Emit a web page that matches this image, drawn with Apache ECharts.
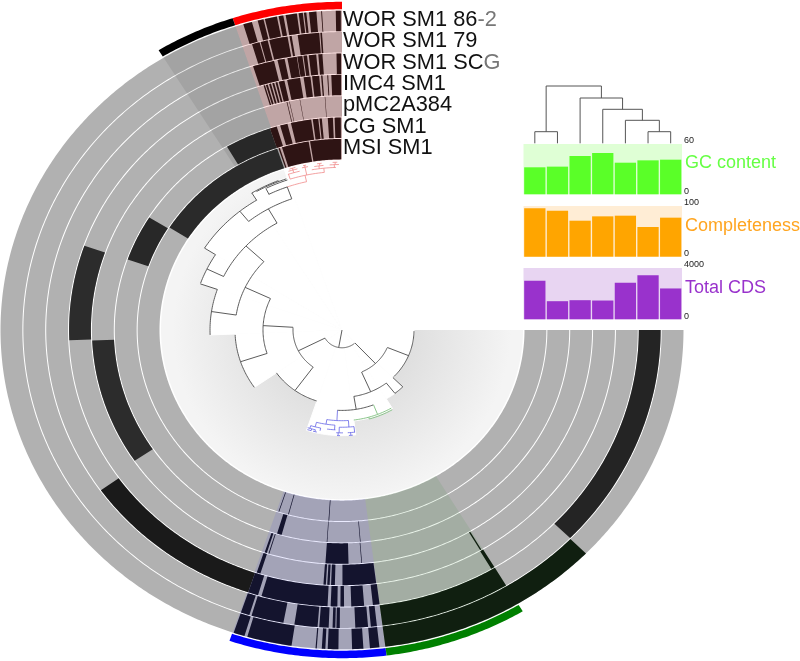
<!DOCTYPE html>
<html><head><meta charset="utf-8">
<style>html,body{margin:0;padding:0;background:#fff}#c{width:800px;height:661px}</style>
<script src="https://cdn.jsdelivr.net/npm/echarts@6/dist/echarts.min.js"></script>
</head><body><div id="c"></div>
<script>
// ---------- data ----------
const layerNames = ['WOR SM1 86-2','WOR SM1 79','WOR SM1 SCG','IMC4 SM1','pMC2A384','CG SM1','MSI SM1'];
// presence runs per layer, [start angle, end angle], outer layer first
const runsWor86 = [[187.3,225.6],
  [161.5,163.4],[163.9,171.5],[175.55,175.75],[176.6,177.2],[177.6,179.4],[181.7,183.6],[184.7,186.3],
  [15.3,16.8],[13.3,14.3],[11,13.05],[9.9,10.7],[7.6,9.5],[6.6,7.3],[6,6.4],[4.3,5.55],[3.35,3.5],[0.2,1.05]];
const runsWor79 = [[225.7,269.99],[187.3,211],
  [161.5,163.1],[163.5,169.4],[171.4,175.6],[175.9,177.6],[178.3,178.8],[179,179.6],[182.4,184.7],[185.2,186.3],
  [15,16.4],[13.5,14.8],[9.85,13.2],[9.1,9.5],[4.1,8],[3.6,3.9]];
const runsWorScg = [[125.4,161.5],[210.3,211],
  [161.5,163.5],[164.2,177.2],[177.8,179.1],[179.7,180.4],[181.8,184.3],[186,187.3],
  [13.3,17.5],[11.2,12.6],[8.8,10.65],[7.7,8.7],[6.8,7.5],[5,6.45],[3.8,4.6],[0.2,1.07]];
const runsImc4 = [[70.7,92.3],[210.4,210.7],
  [161.8,162.6],[176.1,176.6],[176.9,177.4],[177.7,178.5],[180.1,187.2],
  [16.4,16.7],[15.8,16.2],[15.1,15.5],[14.4,14.8],[13.7,14.1],[12.2,13.4],[8.85,11.6],[6.65,8.1],[4.8,6.3],[4.1,4.4],[2.9,3.1],[0.2,2.25]];
const runsPmc = [[92.6,124],
  [162,162.5],[162.9,163.1],[176.2,181.5],[184.45,184.6],
  [12.65,12.8],[12.1,12.2],[9.65,9.75],[3.85,3.95]];
const runsCg = [[18.5,30.4],[58,70.6],
  [163.4,164.6],[176.15,176.3],[184.55,184.7],
  [16.7,18.5],[13.9,15.8],[7.8,13],[6,7.4],[5.1,5.7],[2.3,3.6],[0.3,1.86]];
const runsMsi = [[18.5,57.6],
  [161.9,162.1],[164.7,164.9],[176.2,176.4],
  [0.3,9],[9.4,17.1],[17.7,18.1]];
const layerRuns = [runsWor86,runsWor79,runsWorScg,runsImc4,runsPmc,runsCg,runsMsi];
const layerDark = ['#1e1e1e','#242424','#1a1a1a','#2c2c2c','#2c2c2c','#282828','#2a2a2a'];

// clades: [start angle, end angle, bar colour, shade colour, presence colour]
const clades = [
  [0,18.15,'#ff0000','rgba(255,120,120,0.2)','#2e1414'],
  [18.15,31.5,'#000000','rgba(0,0,0,0.08)',null],
  [161.3,187.3,'#0000ff','rgba(0,0,255,0.08)','#14142e'],
  [187.3,211,'#008000','rgba(0,128,0,0.08)','#101f10']
];
// tree outline: [start angle, end angle, outermost depth]
const treeOutline = [[0,18.6,181],[18.6,31.7,172],[31.7,57.5,163],[57.5,70.5,150],[70.5,92.3,132],
  [92.3,125,107],[125,161.7,80],[161.7,187,113],[187,211,98],[211,225,86],[225,270,72]];
// tree arcs: [depth, from angle, to angle]; tree stems: [angle, from depth, to depth]
const arcsBlack = [[19,118,221],[49,87,144],[49,204,247],[79,65,108.5],[80,125,161.5],[107,46.9,81.4],[107,92.8,125],
  [131.5,29.6,64.2],[132,70.8,92.3],[150,57.5,70.5],[149,19.7,38.8],[163,31.5,57.5],[162.5,19.6,26.8],[172,21.7,31.7],
  [169.5,18.8,26.5],[171,19,30],[72,189.5,218],[72,225.7,269],[86,176.9,201.3],[86,218,225]];
const stemsBlack = [[170,0,19],[117,19,49],[223,19,49],[86.6,49,79],[144,49,80],[108.5,79,107],[64.8,79,107],[81.4,107,132],
  [46.9,107,131.5],[70.8,132,150],[64.2,131.5,150],[57.5,150,163],[29.6,131.5,149],[38.8,149,163],[19.7,149,162.5],
  [31.6,163,172],[26.7,162.5,169.5],[247.6,49,72],[203.5,49,72],[189.5,72,86],[225,72,86],[218,72,86]];
const arcsRed = [[162.5,12.6,19.6],[169.5,6,17.8],[174,2,10],[175,14,18],[177,1,4],[177,6,9],[178,11,13],[178,14.5,17.5],
  [179.5,1.5,3],[179.5,6.5,8],[180,11.5,12.5],[180,15,17]];
const stemsRed = [[12.6,162.5,169.5],[17.8,169.5,175],[6,169.5,174],[2.5,174,177],[7.5,174,177],[12,169.5,178],[16,175,178],
  [2.2,177,179.5],[7.2,177,179.5],[12,178,180],[16,178,180]];
const arcsBlue = [[97,171,183.8],[102,165.5,176],[104,178.5,186.6],[107,163,168.5],[107,172,176.5],[110,161.8,166],
  [110,177,180.5],[110,183,186.8],[112,162,164],[112,165,167],[113,177.5,179],[113,183.5,185.5]];
const stemsBlue = [[177,86,97],[171,97,102],[183.8,97,104],[165.5,102,107],[176,102,107],[178.5,104,110],[186.6,104,110],
  [163,107,110],[168.5,107,110],[164,110,112],[166,110,112],[178,110,113],[184.5,110,113]];
const arcsGreen = [[97,187,210.5],[99,196,210.5]];
const stemsGreen = [[201.5,86,97],[196,97,99]];

const gcContent = [32.2,33,45.7,49.3,37.7,40.5,41.3];
const completeness = [95.4,90.8,71,79.6,80.9,58.6,77];
const totalCds = [3007,1412,1490,1464,2850,3425,2405];
// dendrogram merges: [left x, left height, right x, right height, merge height]
const dendroNodes = [[0.5,0,1.5,0,11.6],[5.5,0,6.5,0,11.6],[4.5,0,6,11.6,23],[3.5,0,5.25,23,34],[2.5,0,4.375,34,45.3],[1,11.6,3.44,45.3,57.3]];

// ---------- layout ----------
const CX=342, CY=330, SQ=0.935, OUTER=342, RING=22.857, GAP=0.5;
const ringOuter = i => OUTER-RING*i;
function pt(api,r,a){const p=api.coord([r,a]);return [p[0],CY+(p[1]-CY)*SQ];}
function band(api,r0,r1,a1,a2){
  const n=Math.max(1,Math.ceil(Math.abs(a2-a1)/0.5)),out=[],inn=[];
  for(let i=0;i<=n;i++){const a=a1+(a2-a1)*i/n;out.push(pt(api,r1,a));if(r0>0)inn.unshift(pt(api,r0,a));else if(i===0)inn.push(pt(api,0,a));}
  return out.concat(inn);
}
function bandSeries(data,z,stroke){ // data rows: [r0,r1,a1,a2,colourIndex]
  const colors=data.colors;
  return {type:'custom',coordinateSystem:'polar',silent:true,z:z,animation:false,
    data:data.rows,
    renderItem:(p,api)=>({type:'polygon',shape:{points:band(api,api.value(0),api.value(1),api.value(2),api.value(3))},
      style:{fill:colors[api.value(4)],stroke:stroke||null,lineWidth:stroke?1:0}})};
}
function treeSeries(arcs,stems,color,w,z){
  const rows=arcs.map(d=>[d[0],d[1],d[0],d[2]]).concat(stems.map(d=>[d[1],d[0],d[2],d[0]]));
  return {type:'custom',coordinateSystem:'polar',silent:true,z:z,animation:false,data:rows,
    renderItem:(p,api)=>{
      const r1=api.value(0),a1=api.value(1),r2=api.value(2),a2=api.value(3),pts=[];
      const n=r1===r2?Math.max(1,Math.ceil(Math.abs(a2-a1))):1;
      for(let i=0;i<=n;i++)pts.push(pt(api,r1+(r2-r1)*i/n,a1+(a2-a1)*i/n));
      return {type:'polyline',shape:{points:pts},style:{fill:null,stroke:color,lineWidth:w}};
    }};
}
function darkColor(ring,a1,a2){
  const m=(a1+a2)/2;
  for(const c of clades) if(c[4]&&m>=c[0]&&m<=c[1]) return c[4];
  return layerDark[ring];
}
const bgGrad=new echarts.graphic.RadialGradient(0.5,0.5,0.5,[{offset:0,color:'#d0d0d0'},{offset:0.5,color:'#e2e2e2'},{offset:1,color:'#f4f4f4'}]);
const ringRows=layerNames.map((n,i)=>[ringOuter(i+1)+GAP,ringOuter(i)-GAP,0,270,0]);
const runColors=[],runRows=[];
layerRuns.forEach((runs,i)=>runs.forEach(r=>{
  runRows.push([ringOuter(i+1)+GAP,ringOuter(i)-GAP,r[0],r[1],runColors.length]);
  runColors.push(darkColor(i,r[0],r[1]));
}));

const barGrids=[[144,50.3],[206,50.7],[268,51.3]];
const GL=523.5,GW=158.5;
const barSets=[[gcContent,60,'#5aff28','#dfffd5'],[completeness,100,'#ffa500','#ffedd5'],[totalCds,4000,'#9932cc','#e8d5f2']];
const names=[['GC content','#66ff44',163],['Completeness','#ffa520',226],['Total CDS','#9932cc',288]];

const option={
  animation:false,backgroundColor:'#fff',
  polar:{center:[CX,CY],radius:[0,360]},
  angleAxis:{type:'value',min:0,max:360,startAngle:90,clockwise:false,axisLine:{show:false},axisTick:{show:false},axisLabel:{show:false},splitLine:{show:false}},
  radiusAxis:{type:'value',min:0,max:360,axisLine:{show:false},axisTick:{show:false},axisLabel:{show:false},splitLine:{show:false}},
  grid:barGrids.map((g,i)=>({left:GL,width:GW,top:g[0],height:g[1],show:true,backgroundColor:barSets[i][3],borderWidth:0})).concat([{left:GL,width:GW,top:81,height:62.3,show:false}]),
  xAxis:barGrids.map((g,i)=>({gridIndex:i,type:'category',data:layerNames,show:false})).concat([{gridIndex:3,type:'value',min:0,max:7,show:false}]),
  yAxis:barSets.map((b,i)=>({gridIndex:i,type:'value',min:0,max:b[1],interval:b[1],position:'right',
    axisLine:{show:false},axisTick:{show:false},splitLine:{show:false},
    axisLabel:{show:true,margin:2,fontSize:9,color:'#222',fontFamily:'Liberation Sans',verticalAlign:'bottom',lineHeight:6,formatter:v=>String(v)}})).concat([{gridIndex:3,type:'value',min:0,max:62.3,show:false}]),
  series:[
    bandSeries({rows:[[0,181,0,270,0]],colors:[bgGrad]},1),
    bandSeries({rows:treeOutline.map(d=>[0,d[2],d[0],d[1],0]),colors:['#ffffff']},2,'#ffffff'),
    bandSeries({rows:ringRows,colors:['#b1b1b1']},3),
    bandSeries({rows:clades.map((c,i)=>[182,342,c[0],c[1],i]),colors:clades.map(c=>c[3])},4),
    bandSeries({rows:runRows,colors:runColors},5),
    bandSeries({rows:clades.map((c,i)=>[343,351,c[0],c[1],i]),colors:clades.map(c=>c[2])},6),
    treeSeries(arcsBlack,stemsBlack,'#4a4a4a',0.9,7),
    treeSeries(arcsRed,stemsRed,'#f08a8a',0.8,7),
    treeSeries(arcsBlue,stemsBlue,'#6464e6',0.8,7),
    treeSeries(arcsGreen,stemsGreen,'#7fbf7f',0.9,7),
    ...barSets.map((b,i)=>({type:'bar',xAxisIndex:i,yAxisIndex:i,data:b[0],barCategoryGap:'6%',silent:true,itemStyle:{color:b[2]},z:3})),
    {type:'custom',coordinateSystem:'cartesian2d',xAxisIndex:3,yAxisIndex:3,silent:true,z:3,data:dendroNodes,
      encode:{x:[0,2],y:[1,3,4]},
      renderItem:(p,api)=>{
        const a=api.coord([api.value(0),api.value(1)]),b=api.coord([api.value(0),api.value(4)]),
              c=api.coord([api.value(2),api.value(4)]),d=api.coord([api.value(2),api.value(3)]);
        return {type:'polyline',shape:{points:[a,b,c,d]},style:{fill:null,stroke:'#555',lineWidth:1}};
      }}
  ],
  graphic:{elements:[
    ...layerNames.map((n,i)=>{
      const cut=n==='WOR SM1 86-2'?10:(n==='WOR SM1 SCG'?10:n.length);
      return {type:'text',silent:true,z:20,x:343,y:CY-SQ*(ringOuter(i)-RING/2)-1,
        style:{text:'{a|'+n.slice(0,cut)+'}'+(cut<n.length?'{b|'+n.slice(cut)+'}':''),
          verticalAlign:'middle',rich:{a:{fontSize:21.8,fontFamily:'Liberation Sans',fill:'#111',color:'#111'},b:{fontSize:21.8,fontFamily:'Liberation Sans',fill:'#777',color:'#777'}}}};
    }),
    ...names.map(n=>({type:'text',silent:true,z:20,x:685,y:n[2],style:{text:n[0],fill:n[1],fontSize:18,fontFamily:'Liberation Sans',verticalAlign:'middle'}}))
  ]}
};
echarts.init(document.getElementById('c'),null,{renderer:'canvas'}).setOption(option);
</script></body></html>
